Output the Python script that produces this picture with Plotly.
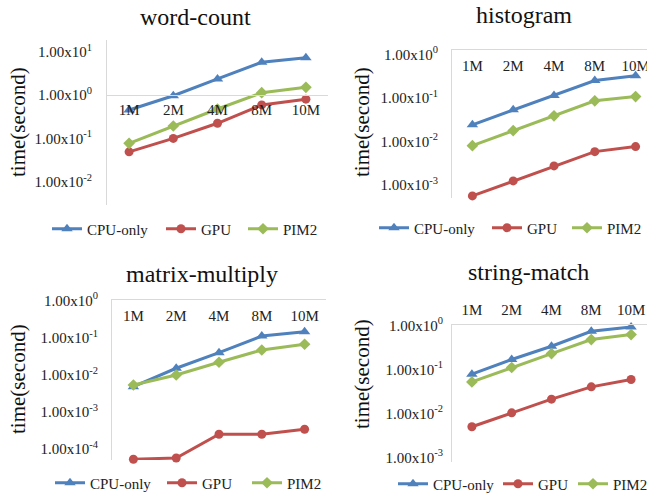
import plotly.graph_objects as go

W, H = 647, 497
FONT = "Liberation Serif, Times New Roman, DejaVu Serif, serif"

sizes = ["1M", "2M", "4M", "8M", "10M"]
series_names = ["CPU-only", "GPU", "PIM2"]
series_colors = ["#4F81BD", "#C0504D", "#9BBB59"]
series_symbols = ["triangle-up", "circle", "diamond"]

# execution time in seconds per input size
word_count_cpu = [0.45, 0.96, 2.34, 5.67, 7.23]
word_count_gpu = [0.049, 0.100, 0.223, 0.59, 0.80]
word_count_pim2 = [0.077, 0.193, 0.475, 1.13, 1.50]

histogram_cpu = [0.0239, 0.053, 0.113, 0.251, 0.322]
histogram_gpu = [0.00055, 0.00122, 0.0027, 0.00577, 0.00753]
histogram_pim2 = [0.0079, 0.0176, 0.0385, 0.0854, 0.107]

matrix_multiply_cpu = [0.00475, 0.0149, 0.0392, 0.110, 0.144]
matrix_multiply_gpu = [0.0000525, 0.0000569, 0.000248, 0.000248, 0.000337]
matrix_multiply_pim2 = [0.00527, 0.0098, 0.0216, 0.0463, 0.066]

string_match_cpu = [0.0774, 0.167, 0.334, 0.731, 0.915]
string_match_gpu = [0.00494, 0.01026, 0.0210, 0.0399, 0.0587]
string_match_pim2 = [0.0518, 0.110, 0.228, 0.474, 0.615]

panel_titles = ["word-count", "histogram", "matrix-multiply", "string-match"]
panel_series = [
    [word_count_cpu, word_count_gpu, word_count_pim2],
    [histogram_cpu, histogram_gpu, histogram_pim2],
    [matrix_multiply_cpu, matrix_multiply_gpu, matrix_multiply_pim2],
    [string_match_cpu, string_match_gpu, string_match_pim2],
]
panel_tick_exponents = [
    [1, 0, -1, -2],
    [0, -1, -2, -3],
    [0, -1, -2, -3, -4],
    [0, -1, -2, -3],
]

# layout of each panel in pixels
panel_box = [  # left, right, top, bottom
    (107, 328, 40, 205),
    (452, 647, 49, 198),
    (112, 326, 299, 460),
    (452, 647, 324, 462),
]
panel_yrange = [(-2.535, 1.267), (-3.307, 0.125), (-4.30, 0.04), (-3.107, 0.03)]
panel_xrange = [(-0.5, 4.5), (-0.5, 4.28), (-0.5, 4.5), (-0.5, 4.4)]
panel_xlabel_gap = [1, 3, 3, 3]
panel_ylabel_gap = [11, 10, 10, 5]
panel_title_pos = [(195, 17), (524, 15), (202, 274), (528, 272)]
panel_ytitle_pos = [(18, 122), (362, 122), (18, 379), (362, 374)]
# legend entries: start of each key line, and the row height
legend_line_x = [[52, 166, 248], [379, 492, 572], [55, 167, 252], [398, 503, 578]]
legend_row_y = [229, 228, 483, 484]


def px_x(p):
    return p / W


def px_y(p):
    return 1 - p / H


fig = go.Figure()
annotations = []
layout_parts = {}

for i in range(4):
    n = "" if i == 0 else str(i + 1)
    left, right, top, bottom = panel_box[i]
    y0, y1 = panel_yrange[i]

    for k in range(3):
        t = 3 * i + k
        lg = "legend" if t == 0 else "legend%d" % (t + 1)
        fig.add_trace(go.Scatter(
            x=sizes, y=panel_series[i][k], name=series_names[k],
            mode="lines+markers",
            line=dict(color=series_colors[k], width=3),
            marker=dict(symbol=series_symbols[k], color=series_colors[k],
                        size=10 if k == 0 else 9),
            xaxis="x" + n, yaxis="y" + n, legend=lg,
            cliponaxis=False,
        ))
        layout_parts[lg] = dict(
            orientation="h", x=px_x(legend_line_x[i][k] - 5),
            y=px_y(legend_row_y[i]), xanchor="left", yanchor="middle",
            font=dict(family=FONT, size=15, color="#222"),
            bgcolor="rgba(0,0,0,0)", borderwidth=0,
        )

    # horizontal axis: crosses at 1 s for word-count, at the top otherwise
    if i == 0:
        cross = top + (bottom - top) * (y1 - 0) / (y1 - y0)
    else:
        cross = top
    layout_parts["xaxis" + n] = dict(
        domain=[px_x(left), px_x(right)], type="category",
        range=list(panel_xrange[i]), anchor="free", position=px_y(cross),
        side="top" if i == 3 else "bottom",
        showline=True, linecolor="#D9D9D9", linewidth=1,
        showgrid=False, ticks="", ticklabelstandoff=panel_xlabel_gap[i],
        tickfont=dict(family=FONT, size=15, color="#222"),
    )
    layout_parts["yaxis" + n] = dict(
        domain=[px_y(bottom), px_y(top)], type="log",
        range=[y0, y1], anchor="x" + n,
        showline=True, linecolor="#D9D9D9", linewidth=1,
        showgrid=False, zeroline=False, ticks="",
        tickvals=[10.0 ** e for e in panel_tick_exponents[i]],
        ticktext=["1.00x10<sup>%d</sup>" % e for e in panel_tick_exponents[i]],
        ticklabelstandoff=panel_ylabel_gap[i],
        tickfont=dict(family=FONT, size=15, color="#222"),
    )

    tx, ty = panel_title_pos[i]
    annotations.append(dict(
        text=panel_titles[i], x=px_x(tx), y=px_y(ty), xref="paper", yref="paper",
        xanchor="center", yanchor="middle", showarrow=False,
        font=dict(family=FONT, size=24, color="#111"),
    ))
    ax_, ay_ = panel_ytitle_pos[i]
    annotations.append(dict(
        text="time(second)", x=px_x(ax_), y=px_y(ay_), xref="paper", yref="paper",
        xanchor="center", yanchor="middle", showarrow=False, textangle=-90,
        font=dict(family=FONT, size=21, color="#111"),
    ))

fig.update_layout(layout_parts)
fig.update_layout(
    width=W, height=H,
    margin=dict(l=0, r=0, t=0, b=0, autoexpand=False),
    paper_bgcolor="white", plot_bgcolor="white",
    annotations=annotations, showlegend=True,
)

fig.write_html("out.html")
